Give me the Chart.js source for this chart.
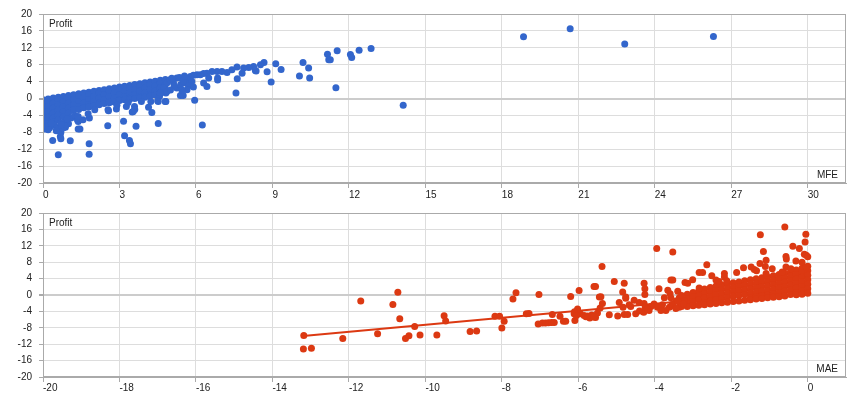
<!DOCTYPE html>
<html>
<head>
<meta charset="utf-8">
<script src="https://cdn.jsdelivr.net/npm/chart.js@4.4.1/dist/chart.umd.min.js"></script>
<style>
  body { margin: 0; background: #fff; }
  .box { position: absolute; left: 0; width: 860px; height: 200px; }
</style>
</head>
<body>
<div class="box" style="top:0"><canvas id="mfeChart" width="860" height="200"></canvas></div>
<div class="box" style="top:200px"><canvas id="maeChart" width="860" height="200"></canvas></div>
<script>
const profitTicks = [-20, -16, -12, -8, -4, 0, 4, 8, 12, 16, 20];
const mfeTicks = [0, 3, 6, 9, 12, 15, 18, 21, 24, 27, 30];
const maeTicks = [-20, -18, -16, -14, -12, -10, -8, -6, -4, -2, 0];

// [MFE, profit] - the packed cloud near the origin
const mfeCore = [
  [0, -0.3], [0, -1.5], [0, -2.7], [0, -3.9], [0, -5.1], [0, -6.3],
  [0.2, -0.1], [0.2, -0.7], [0.2, -1.9], [0.2, -3.1], [0.2, -4.3], [0.2, -5.5], [0.2, -6],
  [0.4, 0.1], [0.4, -1.1], [0.4, -2.3], [0.4, -3.5], [0.4, -4.7], [0.4, -5.5],
  [0.6, 0.3], [0.6, -0.3], [0.6, -1.5], [0.6, -2.7], [0.6, -3.9], [0.6, -5.1],
  [0.8, 0.5], [0.8, -0.7], [0.8, -1.9], [0.8, -3.1], [0.8, -4.3],
  [1, 0.7], [1, 0.1], [1, -1.1], [1, -2.3], [1, -3.5],
  [1.2, 0.9], [1.2, -0.3], [1.2, -1.5], [1.2, -2.7],
  [1.4, 1.1], [1.4, 0.5], [1.4, -0.7], [1.4, -1.9], [1.4, -2.6],
  [1.6, 1.3], [1.6, 0.1], [1.6, -1.1], [1.6, -2.2],
  [1.8, 1.5], [1.8, 0.9], [1.8, -0.3], [1.8, -1.5], [1.8, -2],
  [2, 1.7], [2, 0.5], [2, -0.7], [2, -1.7],
  [2.2, 1.9], [2.2, 1.3], [2.2, 0.1], [2.2, -1.1], [2.2, -1.5],
  [2.4, 2.1], [2.4, 0.9], [2.4, -0.3], [2.4, -1.2],
  [2.6, 2.3], [2.6, 1.7], [2.6, 0.5], [2.6, -0.7], [2.6, -1],
  [2.8, 2.5], [2.8, 1.3], [2.8, 0.1], [2.8, -0.8],
  [3, 2.7], [3, 2.1], [3, 0.9], [3, -0.3], [3, -0.5],
  [3.2, 2.9], [3.2, 1.7], [3.2, 0.5], [3.2, -0.3],
  [3.4, 3.1], [3.4, 2.5], [3.4, 1.3], [3.4, 0.1], [3.4, -0.2],
  [3.6, 3.3], [3.6, 2.1], [3.6, 0.9], [3.6, 0],
  [3.8, 3.5], [3.8, 2.9], [3.8, 1.7], [3.8, 0.5], [3.8, 0.1],
  [4, 3.7], [4, 2.5], [4, 1.3], [4, 0.3],
  [4.2, 3.9], [4.2, 3.3], [4.2, 2.1], [4.2, 0.9], [4.2, 0.6],
  [4.4, 4.1], [4.4, 2.9], [4.4, 1.7], [4.4, 0.8],
  [4.6, 4.3], [4.6, 3.7], [4.6, 2.5], [4.6, 1.3],
  [4.8, 4.5], [4.8, 3.3], [4.8, 2.1], [4.8, 1.5],
  [0.1, -4.5], [0.3, -6.6], [0.45, -6.3], [0.55, -6.9], [0.25, -7], [0.9, -5.6],
  [1.1, -4.6], [1, -6], [1.25, -4], [0.95, -4.8], [0.05, -7.2], [0.7, -5.8]
];

// [MFE, profit] - the looser trades
const mfeSpread = [
  [0.6, -13.3], [1.81, -13.2], [1.81, -10.7], [0.38, -9.95], [1.07, -10], [0.68, -9], [0.7, -9.5],
  [3.2, -8.8], [3.39, -9.95], [3.43, -10.7], [3.16, -5.36], [2.54, -6.47], [3.65, -6.55], [4.52, -5.9],
  [6.25, -6.3], [5.95, -0.4], [7.57, 1.28], [7.62, 4.67], [8.95, 3.88], [9.34, 6.88], [9.13, 8.22],
  [8.79, 6.33], [8.67, 8.53], [8.33, 6.64], [10.06, 5.3], [5.5, 0.72], [5.39, 0.72], [4.82, 1.28],
  [4.57, 0.47], [4.5, -0.55], [4.14, -2.05], [4.27, -3.3], [3.59, -1.9], [3.6, -2.6], [3.5, -3.2],
  [2.57, -2.9], [1.45, -7.2], [1.38, -7.2], [1.82, -4.6], [1.35, -5.05], [0.7, -8.05], [0.16, -7],
  [0.12, -6.8], [0.88, -6.8], [0.2, -7.4], [0.52, -7.65], [0.79, -7], [0.85, -6.5], [1.38, -5.45],
  [1.57, -5.05], [1.77, -3.63], [2.55, -2.68], [2.88, -2.5], [2.9, -1.6], [3.27, -1.9], [3.54, -3.07],
  [4.23, -0.7], [4.52, -0.7], [4.82, -0.7], [3.86, -0.7], [3.34, -0.95], [2.03, -2.68], [1.38, -4.26],
  [0.72, -6.23], [0.33, -5.84], [4.79, -0.7],
  [8.53, 7.99], [8.36, 6.49], [8.26, 7.58], [8.07, 7.35], [7.87, 7.2], [7.81, 6], [7.61, 7.44],
  [7.41, 6.8], [7.22, 6.16], [7.02, 6.4], [6.83, 6.4], [6.85, 4.83], [6.85, 4.4], [6.63, 6.4],
  [6.43, 6], [6.3, 5.9], [6.5, 4.83], [6.3, 3.65], [6.43, 2.84], [6.17, 5.6], [6.04, 5.6], [5.9, 5.5],
  [5.78, 5.2], [5.65, 4.43], [5.84, 4.03], [5.58, 3.65], [5.71, 3], [5.9, 2.7], [5.65, 2.06],
  [5.45, 0.88], [5.25, 4.83], [5.12, 3.65], [5.25, 2.46], [4.86, 3.65], [4.99, 4.43], [4.73, 2.46],
  [4.86, 1.66], [4.6, 1.28], [5.05, 4.8], [5.15, 2.9], [5.35, 5], [5.4, 3.3], [5.45, 2], [5.5, 4.2],
  [5.55, 5.3], [5, 2],
  [10.2, 8.5], [10.42, 7.2], [10.46, 4.83], [11.16, 10.5], [11.21, 9.17], [11.27, 9.2], [11.54, 11.3],
  [11.49, 2.54], [12.06, 10.43], [12.11, 9.72], [12.4, 11.4], [12.87, 11.86], [14.13, -1.57],
  [18.85, 14.6], [20.68, 16.5], [22.82, 12.9], [26.3, 14.7]
];

// [MAE, profit] - the packed cloud just left of zero
const maeCore = [
  [-3.15, 0.2], [-3.15, -0.9], [-3.15, -2], [-3.15, -2.8],
  [-3, 0.6], [-3, -0.5], [-3, -1.6], [-3, -2.65],
  [-2.85, 1], [-2.85, -0.1], [-2.85, -1.2], [-2.85, -2.5],
  [-2.7, 1.45], [-2.7, 0.35], [-2.7, -0.75], [-2.7, -1.85], [-2.7, -2.35],
  [-2.55, 1.85], [-2.55, 0.75], [-2.55, -0.35], [-2.55, -1.45], [-2.55, -2.2],
  [-2.4, 2.2], [-2.4, 1.1], [-2.4, 0], [-2.4, -1.1], [-2.4, -2.05],
  [-2.25, 2.45], [-2.25, 1.35], [-2.25, 0.25], [-2.25, -0.85], [-2.25, -1.9],
  [-2.1, 2.7], [-2.1, 1.6], [-2.1, 0.5], [-2.1, -0.6], [-2.1, -1.75],
  [-1.95, 3], [-1.95, 1.9], [-1.95, 0.8], [-1.95, -0.3], [-1.95, -1.6],
  [-1.8, 3.2], [-1.8, 2.1], [-1.8, 1], [-1.8, -0.1], [-1.8, -1.45],
  [-1.65, 3.45], [-1.65, 2.35], [-1.65, 1.25], [-1.65, 0.15], [-1.65, -1.3],
  [-1.5, 3.7], [-1.5, 2.6], [-1.5, 1.5], [-1.5, 0.4], [-1.5, -0.7], [-1.5, -1.15],
  [-1.35, 3.95], [-1.35, 2.85], [-1.35, 1.75], [-1.35, 0.65], [-1.35, -0.45], [-1.35, -1],
  [-1.2, 4.2], [-1.2, 3.1], [-1.2, 2], [-1.2, 0.9], [-1.2, -0.2], [-1.2, -0.85],
  [-1.05, 4.4], [-1.05, 3.3], [-1.05, 2.2], [-1.05, 1.1], [-1.05, 0], [-1.05, -0.7],
  [-0.9, 4.7], [-0.9, 3.6], [-0.9, 2.5], [-0.9, 1.4], [-0.9, 0.3], [-0.9, -0.55],
  [-0.75, 5], [-0.75, 3.9], [-0.75, 2.8], [-0.75, 1.7], [-0.75, 0.6], [-0.75, -0.4],
  [-0.6, 5.3], [-0.6, 4.2], [-0.6, 3.1], [-0.6, 2], [-0.6, 0.9], [-0.6, -0.25],
  [-0.45, 5.65], [-0.45, 4.55], [-0.45, 3.45], [-0.45, 2.35], [-0.45, 1.25], [-0.45, 0.1],
  [-0.3, 6.1], [-0.3, 5], [-0.3, 3.9], [-0.3, 2.8], [-0.3, 1.7], [-0.3, 0.6], [-0.3, 0.05],
  [-0.15, 6.5], [-0.15, 5.4], [-0.15, 4.3], [-0.15, 3.2], [-0.15, 2.1], [-0.15, 1], [-0.15, 0.2],
  [0, 7], [0, 5.9], [0, 4.8], [0, 3.7], [0, 2.6], [0, 1.5], [0, 0.4]
];

// [MAE, profit] - the looser trades
const maeSpread = [
  [-13.19, -13.2], [-12.98, -13], [-13.18, -9.86], [-12.16, -10.6], [-11.69, -1.45], [-11.25, -9.46],
  [-10.85, -2.31], [-10.72, 0.68], [-10.67, -5.78], [-10.52, -10.6], [-10.43, -9.94], [-10.28, -7.66],
  [-10.14, -9.78], [-9.7, -9.78], [-9.51, -5.06], [-9.47, -6.32], [-8.83, -8.92], [-8.66, -8.76],
  [-8.18, -5.2], [-8.06, -5.2], [-7.94, -6.4], [-8, -8.05], [-7.71, -0.97], [-7.63, 0.52],
  [-7.36, -4.6], [-7.29, -4.5], [-7.03, 0.12], [-7.05, -7.1], [-6.94, -6.85], [-6.86, -6.8],
  [-6.78, -6.75], [-6.7, -6.7], [-6.63, -6.7], [-6.68, -4.74], [-6.48, -5.2], [-6.39, -6.4],
  [-6.33, -6.4], [-6.2, -0.35], [-6.09, -6.2], [-6.11, -4.6], [-5.98, 1.1],
  [-6.02, -3.4], [-6, -4.2], [-6.1, -4.1], [-5.95, -4.6], [-5.85, -5], [-5.8, -5.3], [-5.7, -5.6],
  [-5.65, -4.9], [-5.55, -5.5], [-5.5, -4.4], [-6.05, -5], [-5.59, -5.38], [-5.76, -5.1],
  [-5.59, 2.1], [-5.55, 2.1], [-5.38, 6.96], [-5.41, -0.42], [-5.45, -0.5], [-5.43, -3.18],
  [-5.37, -2.1], [-5.19, -4.82], [-5.06, 3.28], [-4.97, -5.14], [-4.93, -1.84], [-4.84, 0.75],
  [-4.83, -3], [-4.8, 2.88], [-4.76, -0.5], [-4.76, -0.8], [-4.8, -4.74], [-4.71, -4.74],
  [-4.67, -2.4], [-4.63, -2.8], [-4.54, -1.3], [-4.5, -4.6], [-4.41, -1.84], [-4.28, -2.07],
  [-4.28, 2.88], [-4.26, 1.53], [-4.26, 0.12], [-4.25, -3], [-4.29, -4.2], [-4.15, -3.8],
  [-3.95, 11.37], [-3.53, 10.5], [-3.89, 1.53], [-3.58, 3.66], [-3.53, 3.66], [-3.66, 1.16],
  [-3.75, -0.66], [-3.58, -0.66], [-3.8, -2.4], [-4.02, -2.2], [-4.1, -2.8], [-3.93, -3],
  [-3.84, -3.8], [-3.71, -3.8], [-3.62, -3], [-3.53, -2.6], [-3.45, -1.45], [-3.36, -0.66],
  [-3.4, 0.9], [-3.21, 3.04], [-3.3, -0.1], [-3.36, -3], [-3.23, -1.45], [-4.2, -3.4],
  [-4.4, -3.9], [-3.55, -2.3], [-3.4, -1.6], [-3.6, 0.3], [-3.3, -2.8], [-3.25, -2.2], [-3.45, -3.3],
  [-3.14, 2.88], [-2.84, 1.7], [-3.01, 3.75], [-2.84, 5.47], [-2.75, 5.47], [-2.64, 7.4],
  [-2.51, 4.7], [-2.4, 3.66], [-2.18, 5.24], [-2.18, 4.4], [-2.12, 3.5], [-2.32, 3.3],
  [-1.86, 5.47], [-1.68, 6.65], [-1.48, 6.82], [-1.4, 6.25], [-1.34, 5.9], [-1.24, 14.7],
  [-1.16, 10.6], [-1.09, 8.5], [-1.25, 7.67], [-1.11, 6.96], [-0.93, 6.4], [-1.09, 5.24],
  [-0.6, 16.6], [-0.39, 11.9], [-0.22, 11.37], [-0.07, 12.9], [-0.05, 14.8], [-0.57, 9.4],
  [-0.56, 8.8], [-0.09, 9.95], [-0.04, 9.7], [0, 9.3], [-0.31, 8.3], [-0.15, 8], [-0.67, 5.64],
  [-0.57, 6.82], [-0.44, 6.4], [-0.04, 6.82]
];

// fitted trend line of the MAE panel
const trendMae = [-13.2, 0];
const trendProfit = [-10.0, 1.3];

const toPoints = (pairs) => pairs.map(([x, y]) => ({ x, y }));

const panelText = {
  id: "panelText",
  afterDraw(chart, args, opts) {
    const { ctx, chartArea: a } = chart;
    ctx.save();
    ctx.strokeStyle = "#aaa";
    ctx.lineWidth = 1;
    ctx.strokeRect(Math.round(a.left) + 0.5, Math.round(a.top) + 0.5,
      Math.round(a.right - a.left) - 1, Math.round(a.bottom - a.top) - 1);
    ctx.font = "10px Arial";
    ctx.fillStyle = "#222";
    ctx.textAlign = "left";
    ctx.fillText(opts.yName, a.left + 6, a.top + 13);
    ctx.textAlign = "right";
    ctx.fillText(opts.xName, a.right - 8, a.bottom - 5);
    ctx.restore();
  }
};

function makePanel(id, datasets, xTicks, xMin, xMax, padTop, xHeight, labelPad, xName) {
  return new Chart(document.getElementById(id), {
    type: "scatter",
    data: { datasets: datasets },
    options: {
      responsive: false,
      animation: false,
      events: [],
      layout: { padding: { top: padTop, right: 14, left: 0, bottom: 0 } },
      scales: {
        x: {
          type: "linear",
          min: xMin,
          max: xMax,
          afterBuildTicks: (s) => { s.ticks = xTicks.map((v) => ({ value: v })); },
          afterFit: (s) => { s.height = xHeight; },
          border: { display: true, color: "#aaa" },
          grid: { color: "#dddddd", tickColor: "#aaa", tickLength: 5 },
          ticks: {
            align: "start",
            maxRotation: 0,
            autoSkip: false,
            padding: labelPad,
            color: "#222",
            font: { family: "Arial", size: 10 }
          }
        },
        y: {
          min: -20,
          max: 20,
          afterBuildTicks: (s) => { s.ticks = profitTicks.map((v) => ({ value: v })); },
          afterFit: (s) => { s.width = 43; },
          border: { display: true, color: "#aaa" },
          grid: {
            color: (c) => (c.tick && c.tick.value === 0 ? "#cccccc" : "#dddddd"),
            lineWidth: (c) => (c.tick && c.tick.value === 0 ? 2 : 1),
            tickColor: "#aaa",
            tickLength: 4
          },
          ticks: { padding: 7, color: "#222", font: { family: "Arial", size: 10 } }
        }
      },
      plugins: {
        legend: { display: false },
        tooltip: { enabled: false },
        panelText: { yName: "Profit", xName: xName }
      }
    },
    plugins: [panelText]
  });
}

makePanel("mfeChart", [
  {
    data: toPoints(mfeCore.concat(mfeSpread)),
    pointBackgroundColor: "#3366cc",
    pointBorderWidth: 0,
    pointRadius: 3.5
  }
], mfeTicks, 0, 31.5, 14, 17, 1, "MFE");

makePanel("maeChart", [
  {
    data: toPoints(maeCore.concat(maeSpread)),
    pointBackgroundColor: "#dc3912",
    pointBorderWidth: 0,
    pointRadius: 3.5,
    order: 0
  },
  {
    data: trendMae.map((x, i) => ({ x, y: trendProfit[i] })),
    showLine: true,
    borderColor: "#dc3912",
    borderWidth: 2,
    pointRadius: 0,
    order: 1
  }
], maeTicks, -20, 1, 7, 23, 0, "MAE");
</script>
</body>
</html>
